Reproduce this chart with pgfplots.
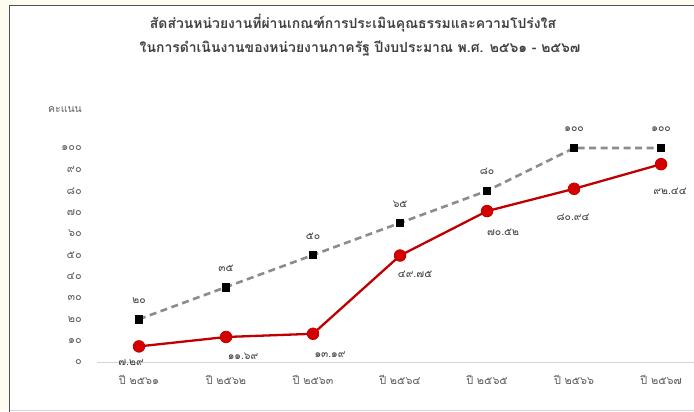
\documentclass[border=0pt]{standalone}
\usepackage{pgfplots}
\pgfplotsset{compat=1.18}
\usepackage{pgfplotstable}
\usepackage{fontspec}
\setmainfont[Script=Thai]{Loma}
\definecolor{cream}{HTML}{FEFCF0}
\definecolor{framec}{HTML}{505050}
\definecolor{titlec}{HTML}{404040}
\definecolor{tickc}{HTML}{606060}
\definecolor{redl}{HTML}{C00000}
\definecolor{redf}{HTML}{D40000}
\definecolor{grayl}{HTML}{8C8C8C}
\definecolor{axisc}{HTML}{D4D4D4}

\pgfplotstableread{
x y lab dx dy
0 20 ๒๐ 0 19
1 35 ๓๕ 0 19
2 50 ๕๐ 0 19
3 65 ๖๕ 0 19
4 80 ๘๐ 0 19
5 100 ๑๐๐ 0 19
6 100 ๑๐๐ 0 19
}\target

\pgfplotstableread{
x y lab dx dy
0 7.29 ๗.๒๙ -8 -16
1 11.69 ๑๑.๖๙ 17 -19
2 13.19 ๑๓.๑๙ 17 -21
3 49.75 ๔๙.๗๕ 15 -19
4 70.52 ๗๐.๕๒ 16 -21
5 80.94 ๘๐.๙๔ -1 -29
6 92.44 ๙๒.๔๔ 9 -27
}\actual

\begin{document}
\begin{tikzpicture}[x=1bp,y=1bp]
\clip (0,0) rectangle (694,411);
\fill[cream] (0,0) rectangle (694,411);
\fill[white] (9.5,0.5) rectangle (720,405.5);
\draw[framec, line width=1.2bp] (9.5,-5) -- (9.5,405.5) -- (720,405.5);
\draw[axisc, line width=0.8bp] (9.5,1) -- (720,1);

\node[font=\bfseries\fontsize{14}{16}\selectfont, text=titlec] at (353,388) {สัดส่วนหน่วยงานที่ผ่านเกณฑ์การประเมินคุณธรรมและความโปร่งใส};
\node[font=\bfseries\fontsize{14}{16}\selectfont, text=titlec] at (360,363) {ในการดำเนินงานของหน่วยงานภาครัฐ ปีงบประมาณ พ.ศ. ๒๕๖๑ - ๒๕๖๗};
\node[font=\fontsize{10.5}{12}\selectfont, text=tickc] at (65,301) {คะแนน};

\begin{axis}[
  at={(139bp,49bp)}, anchor=origin,
  scale only axis, width=603bp, height=214bp,
  xmin=-0.48, xmax=6.45, ymin=0, ymax=100,
  clip=false,
  axis x line=bottom, axis y line=left,
  x axis line style={-, draw=axisc, line width=0.8bp},
  y axis line style={draw=none},
  major tick length=0pt,
  xtick={0,1,2,3,4,5,6},
  xticklabels={ปี ๒๕๖๑,ปี ๒๕๖๒,ปี ๒๕๖๓,ปี ๒๕๖๔,ปี ๒๕๖๕,ปี ๒๕๖๖,ปี ๒๕๖๗},
  ytick={0,10,...,100},
  yticklabels={๐,๑๐,๒๐,๓๐,๔๐,๕๐,๖๐,๗๐,๘๐,๙๐,๑๐๐},
  ticklabel style={font=\fontsize{11}{12}\selectfont, text=tickc},
  yticklabel style={xshift=-12bp},
  xticklabel style={yshift=-10bp},
  nodes near coords={\pgfplotspointmeta},
  point meta=explicit symbolic,
  visualization depends on={\thisrow{dx}\as\dx},
  visualization depends on={\thisrow{dy}\as\dy},
  every node near coord/.append style={anchor=center, xshift=\dx bp, yshift=\dy bp, font=\fontsize{10.5}{12}\selectfont, text=titlec},
]
\addplot[grayl, line width=2.6bp, dash pattern=on 7bp off 4.5bp,
  mark=square*, mark size=3.6bp,
  mark options={solid, fill=black, draw=black, line width=0.4bp}]
  table[x=x, y=y, meta=lab] {\target};
\addplot[redl, line width=2.3bp,
  mark=*, mark size=5.8bp,
  mark options={fill=redf, draw=redl, line width=0.8bp}]
  table[x=x, y=y, meta=lab] {\actual};
\end{axis}
\end{tikzpicture}
\end{document}
